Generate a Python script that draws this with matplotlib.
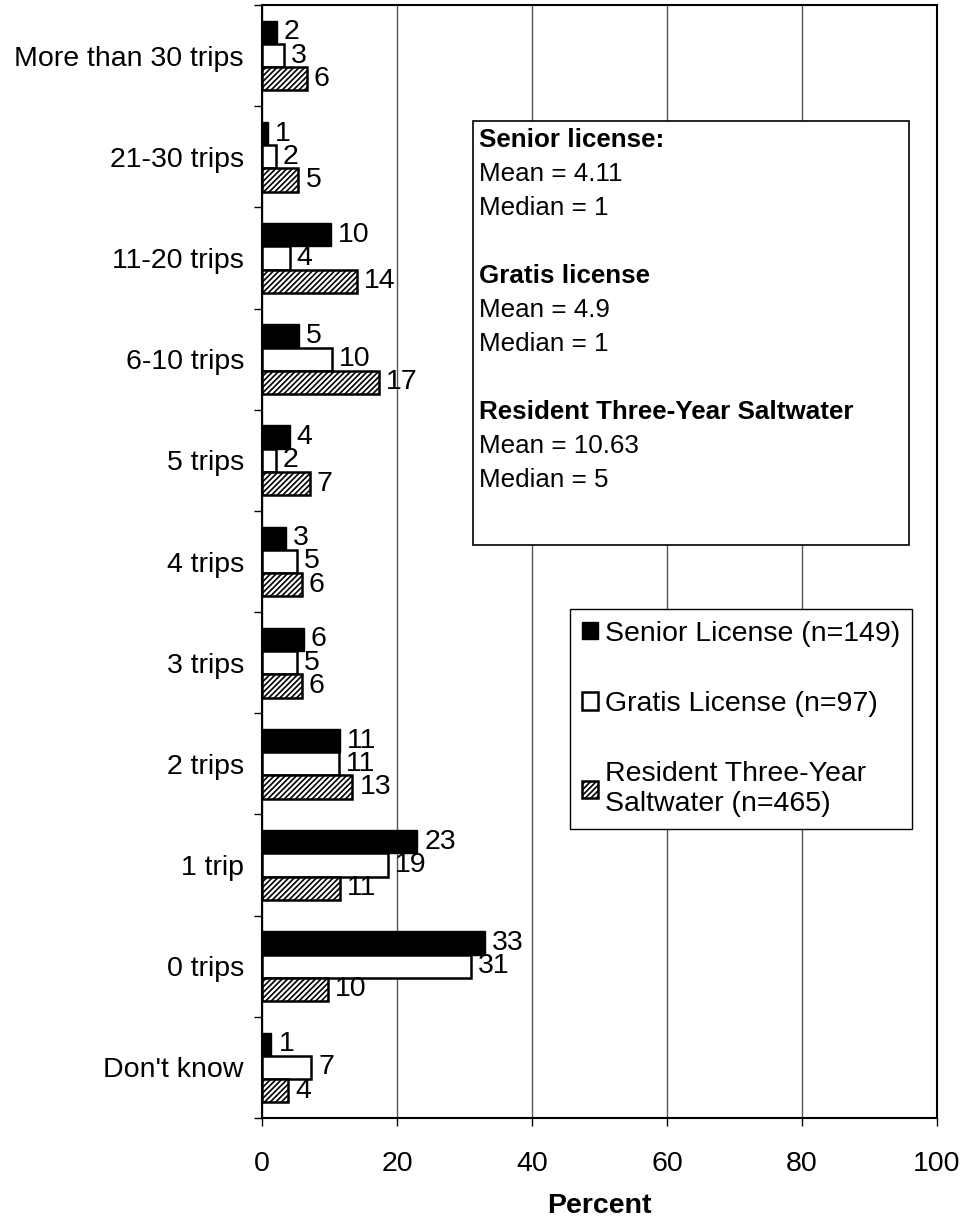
import matplotlib
matplotlib.use("Agg")
import matplotlib.pyplot as plt
import numpy as np
from matplotlib.patches import Rectangle

plt.rcParams['font.family'] = ['Liberation Sans', 'DejaVu Sans']
plt.rcParams['hatch.linewidth'] = 1.2

categories = ["More than 30 trips", "21-30 trips", "11-20 trips", "6-10 trips",
              "5 trips", "4 trips", "3 trips", "2 trips", "1 trip", "0 trips",
              "Don't know"]
senior = [2.2, 0.9, 10.2, 5.5, 4.1, 3.5, 6.2, 11.6, 23.0, 33.0, 1.4]
gratis = [3.2, 2.1, 4.1, 10.4, 2.1, 5.2, 5.2, 11.4, 18.7, 31.0, 7.3]
resident = [6.6, 5.4, 14.1, 17.3, 7.1, 5.9, 5.9, 13.4, 11.5, 9.8, 3.9]
senior_lbl = [2, 1, 10, 5, 4, 3, 6, 11, 23, 33, 1]
gratis_lbl = [3, 2, 4, 10, 2, 5, 5, 11, 19, 31, 7]
resident_lbl = [6, 5, 14, 17, 7, 6, 6, 13, 11, 10, 4]
series_names = ["Senior License (n=149)", "Gratis License (n=97)",
                "Resident Three-Year\nSaltwater (n=465)"]
xticks = [0, 20, 40, 60, 80, 100]
stats_lines = [("Senior license:", True), ("Mean = 4.11", False), ("Median = 1", False),
               ("", False),
               ("Gratis license", True), ("Mean = 4.9", False), ("Median = 1", False),
               ("", False),
               ("Resident Three-Year Saltwater", True), ("Mean = 10.63", False),
               ("Median = 5", False)]

fig = plt.figure(figsize=(9.66, 12.23), dpi=100)
ax = fig.add_axes([262/966, 1-1118/1223, 675/966, 1113/1223])

n = len(categories)
y = np.arange(n)
h = 0.23
fs = 20.5

b1 = ax.barh(y - h, senior, height=h, color='black', edgecolor='black', lw=1.0,
             label=series_names[0], zorder=3)
b2 = ax.barh(y, gratis, height=h, color='white', edgecolor='black', lw=1.8,
             label=series_names[1], zorder=3)
b3 = ax.barh(y + h, resident, height=h, color='white', edgecolor='black', lw=1.8,
             hatch='//////', label=series_names[2], zorder=3)

for bars, lbls in [(b1, senior_lbl), (b2, gratis_lbl), (b3, resident_lbl)]:
    ax.bar_label(bars, labels=[str(v) for v in lbls], padding=5, fontsize=fs)

ax.set_xlim(0, 100)
ax.set_ylim(n - 0.5, -0.5)
ax.set_xticks(xticks)
ax.set_xticklabels([str(v) for v in xticks], fontsize=fs)
ax.set_yticks(y)
ax.set_yticklabels(categories, fontsize=fs)
ax.tick_params(axis='y', length=0, pad=13)
ax.set_yticks(np.arange(n + 1) - 0.5, minor=True)
ax.tick_params(axis='y', which='minor', length=6, width=1, direction='out')
ax.tick_params(axis='x', length=6, width=1, direction='out', pad=18)
ax.xaxis.grid(True, color='#555555', lw=1.0, zorder=0)
ax.set_axisbelow(True)
for s in ax.spines.values():
    s.set_linewidth(1.5)
ax.set_xlabel("Percent", fontsize=fs, fontweight='bold', labelpad=11)

# stats box
bx0, by0 = (473-262)/675, 1-(545-5)/1113
bx1, by1 = (909-262)/675, 1-(121-5)/1113
ax.add_patch(Rectangle((bx0, by0), bx1-bx0, by1-by0, transform=ax.transAxes,
                       facecolor='white', edgecolor='black', lw=1.2, zorder=5))
line_h = 34/1113
for i, (txt, bold) in enumerate(stats_lines):
    if txt:
        ax.text(bx0 + 6/675, 1-(140-5)/1113 - i*line_h, txt, transform=ax.transAxes,
                fontsize=18.7, fontweight='bold' if bold else 'normal',
                va='center', ha='left', zorder=6)

leg = ax.legend(loc='upper left', bbox_to_anchor=((570-262)/675, 1-(609-5)/1113),
                fontsize=fs, frameon=True, fancybox=False, framealpha=1,
                edgecolor='black', handlelength=0.55, handleheight=0.55,
                handletextpad=0.25, labelspacing=1.55, borderpad=0.42,
                borderaxespad=0)
leg.get_frame().set_linewidth(1.0)
leg.set_zorder(6)

fig.savefig("out.png", dpi=100)
